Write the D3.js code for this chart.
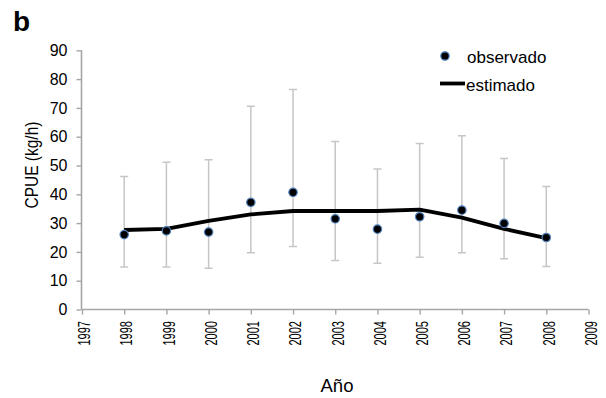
<!DOCTYPE html>
<html>
<head>
<meta charset="utf-8">
<script src="https://cdn.jsdelivr.net/npm/d3@7"></script>
<style>
  html, body { margin: 0; padding: 0; background: #fff; }
  svg { display: block; font-family: "Liberation Sans", Arial, sans-serif; }
</style>
</head>
<body>
<svg id="chart" width="606" height="398"></svg>
<script>
// CPUE per year: observed mean with error range, and model estimate
const years     = [1998, 1999, 2000, 2001, 2002, 2003, 2004, 2005, 2006, 2007, 2008];
const observed  = [26.0, 27.3, 26.9, 37.2, 40.7, 31.5, 27.9, 32.2, 34.5, 29.9, 25.0];
const errUpper  = [46.2, 51.1, 52.0, 70.6, 76.4, 58.3, 48.8, 57.6, 60.3, 52.4, 42.7];
const errLower  = [14.8, 14.8, 14.3, 19.7, 21.9, 17.0, 16.1, 18.1, 19.7, 17.6, 14.9];
const estimated = [27.6, 28.0, 30.8, 33.0, 34.2, 34.2, 34.2, 34.7, 31.9, 28.0, 24.8];
const xTicks    = [1997, 1998, 1999, 2000, 2001, 2002, 2003, 2004, 2005, 2006, 2007, 2008, 2009];
const yTicks    = [0, 10, 20, 30, 40, 50, 60, 70, 80, 90];

const svg = d3.select("#chart");
const axisColor = "#a6a6a6";
const fontFam = "Liberation Sans, Arial, sans-serif";

const x = d3.scaleLinear().domain([1997, 2009]).range([82, 588.5]);
const y = d3.scaleLinear().domain([0, 90]).range([309.5, 50.3]);

// panel letter
svg.append("text").attr("x", 13).attr("y", 30.5)
  .attr("font-size", 28).attr("font-weight", "bold").text("b");

// y axis
const yAxis = svg.append("g").attr("transform", "translate(81.5,0)")
  .call(d3.axisLeft(y).tickValues(yTicks).tickSize(5).tickPadding(9).tickFormat(d3.format("d")));
yAxis.select(".domain").attr("stroke", axisColor).attr("stroke-width", 1.6)
  .attr("d", `M0,${y(90)}V${y(0)}`);
yAxis.selectAll(".tick line").attr("stroke", axisColor).attr("stroke-width", 1.4);
yAxis.selectAll(".tick text").attr("font-size", 16).attr("fill", "#000")
  .attr("font-family", fontFam);

// x axis, year labels turned vertical and narrowed along their length
const xAxis = svg.append("g").attr("transform", `translate(0,${y(0)})`)
  .call(d3.axisBottom(x).tickValues(xTicks).tickSize(5).tickFormat(d3.format("d")));
xAxis.select(".domain").attr("stroke", axisColor).attr("stroke-width", 1.6)
  .attr("d", `M${x(1997)},0H${x(2009)}`);
xAxis.selectAll(".tick line").attr("stroke", axisColor).attr("stroke-width", 1.4);
xAxis.selectAll(".tick text")
  .attr("font-size", 16).attr("fill", "#000")
  .attr("font-family", fontFam)
  .attr("text-anchor", "end")
  .attr("x", 0).attr("y", 0).attr("dy", "0.36em")
  .attr("transform", "translate(2,11.5) rotate(-90) scale(0.69,1)");

// axis titles
svg.append("text").attr("transform", "translate(38,165) rotate(-90) scale(0.86,1)")
  .attr("text-anchor", "middle").attr("font-size", 18)
  .text("CPUE (kg/h)");
svg.append("text").attr("x", 337).attr("y", 392)
  .attr("text-anchor", "middle").attr("font-size", 18.5).text("Año");

const rows = years.map((yr, i) => ({ yr, obs: observed[i], hi: errUpper[i], lo: errLower[i], est: estimated[i] }));

// error bars
const eb = svg.append("g").attr("stroke", "#c6c6c6").attr("stroke-width", 1.5).attr("fill", "none");
rows.forEach(d => {
  eb.append("path").attr("d",
    `M${x(d.yr)},${y(d.lo)}V${y(d.hi)}` +
    `M${x(d.yr) - 4},${y(d.hi)}H${x(d.yr) + 4}` +
    `M${x(d.yr) - 4},${y(d.lo)}H${x(d.yr) + 4}`);
});

// estimated line
svg.append("path").datum(rows)
  .attr("fill", "none").attr("stroke", "#000").attr("stroke-width", 3.8)
  .attr("stroke-linejoin", "round")
  .attr("d", d3.line().x(d => x(d.yr)).y(d => y(d.est)));

// observed points
svg.append("g").selectAll("circle").data(rows).join("circle")
  .attr("cx", d => x(d.yr)).attr("cy", d => y(d.obs)).attr("r", 4.2)
  .attr("fill", "#000").attr("stroke", "#4f81bd").attr("stroke-width", 1.2);

// legend
const lg = svg.append("g");
lg.append("circle").attr("cx", 445).attr("cy", 56).attr("r", 4.2)
  .attr("fill", "#000").attr("stroke", "#4f81bd").attr("stroke-width", 1.2);
lg.append("text").attr("x", 467).attr("y", 63).attr("font-size", 17).text("observado");
lg.append("line").attr("x1", 440).attr("x2", 465).attr("y1", 83.5).attr("y2", 83.5)
  .attr("stroke", "#000").attr("stroke-width", 3.8);
lg.append("text").attr("x", 466).attr("y", 90.5).attr("font-size", 17).text("estimado");
</script>
</body>
</html>
